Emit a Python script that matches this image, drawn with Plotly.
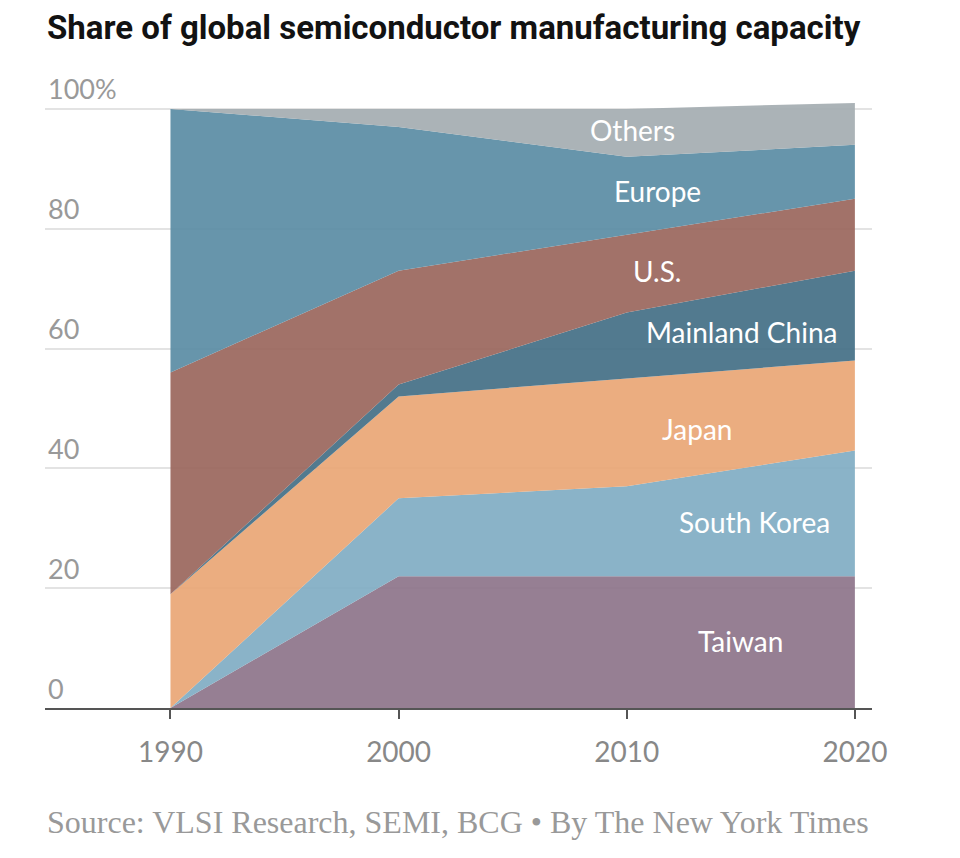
import plotly.graph_objects as go

years = [1990, 2000, 2010, 2020]
regions = ["Taiwan", "South Korea", "Japan", "Mainland China", "U.S.", "Europe", "Others"]
taiwan = [0, 22, 22, 22]
south_korea = [0, 13, 15, 21]
japan = [19, 17, 18, 15]
mainland_china = [0, 2, 11, 15]
us = [37, 19, 13, 12]
europe = [44, 24, 13, 9]
others = [0, 3, 8, 7]
series = [taiwan, south_korea, japan, mainland_china, us, europe, others]

y_ticks = [0, 20, 40, 60, 80, 100]
y_tick_labels = ["0", "20", "40", "60", "80", "100%"]
x_ticks = [1990, 2000, 2010, 2020]

colors = ["#977f93", "#8ab3c8", "#ebad80", "#527b8f", "#a2736a", "#6895ab", "#abb3b7"]
# label anchor positions (x in years, y in percent)
label_pos = [(2014.97, 11.2), (2015.58, 31.0), (2013.08, 46.6), (2015.05, 62.8),
             (2011.33, 73.0), (2011.33, 86.3), (2010.24, 96.5)]

ALPHA = 0.9
W, H = 960, 858
OFF = 8  # page offset of the figure in the browser
Y_MAX = 110
PX_PER_UNIT = 5.987
PLOT_BOTTOM = 708  # screen px of y=0
PLOT_TOP = PLOT_BOTTOM - Y_MAX * PX_PER_UNIT
M_L = 45 - OFF
M_R = W + OFF - 872
M_T = PLOT_TOP - OFF
M_B = H + OFF - PLOT_BOTTOM
PLOT_H = PLOT_BOTTOM - PLOT_TOP


def translucent(hexcol, a=ALPHA):
    h = hexcol.lstrip("#")
    rgb = [int(h[i:i + 2], 16) for i in (0, 2, 4)]
    base = [max(0, min(255, round((c - (1 - a) * 255) / a))) for c in rgb]
    return f"rgba({base[0]},{base[1]},{base[2]},{a})"


def paper_y(px):
    return (PLOT_BOTTOM - px) / PLOT_H


fig = go.Figure()
for name, vals, col in zip(regions, series, colors):
    fig.add_trace(go.Scatter(
        x=years, y=vals, name=name, stackgroup="one", mode="lines",
        line=dict(width=0, color=col), fillcolor=translucent(col),
        hovertemplate="%{x}: %{y}%<extra>" + name + "</extra>",
    ))

for name, (lx, ly) in zip(regions, label_pos):
    fig.add_annotation(x=lx, y=ly, text=name, showarrow=False,
                       font=dict(family="Lato", size=28, color="white"),
                       xanchor="center", yanchor="middle")

fig.add_annotation(
    text="<b>Share of global semiconductor manufacturing capacity</b>",
    xref="paper", yref="paper", x=0, y=paper_y(28),
    xanchor="left", yanchor="middle", showarrow=False,
    font=dict(family="Roboto", size=33, color="#121212"))

fig.add_annotation(
    text="Source: VLSI Research, SEMI, BCG \u2022 By The New York Times",
    xref="paper", yref="paper", x=0, y=paper_y(822),
    xanchor="left", yanchor="middle", showarrow=False,
    font=dict(family="Liberation Serif", size=32, color="#999999"))

fig.update_layout(
    width=W, height=H,
    margin=dict(l=M_L, r=M_R, t=M_T, b=M_B),
    paper_bgcolor="white", plot_bgcolor="white",
    showlegend=False,
    xaxis=dict(range=[1984.5, 2020.75], tickvals=x_ticks, ticks="outside",
               ticklen=9, tickwidth=2, tickcolor="#555555",
               showline=True, linecolor="#555555", linewidth=2,
               showgrid=False, zeroline=False, ticklabelstandoff=9,
               tickfont=dict(family="Lato", size=28, color="#888888")),
    yaxis=dict(range=[0, Y_MAX], tickvals=y_ticks, ticktext=y_tick_labels,
               ticklabelposition="inside top", showgrid=True,
               gridcolor="#e3e3e3", gridwidth=2, zeroline=False,
               showline=False, ticks="",
               tickfont=dict(family="Lato", size=27, color="#999999")),
)

fig.write_html("out.html")
